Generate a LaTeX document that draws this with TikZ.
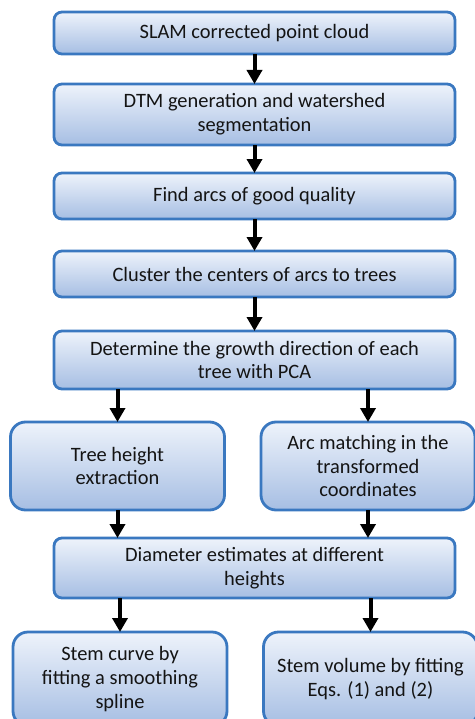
\documentclass[tikz,border=0pt]{standalone}
\usepackage{fontspec}
\setmainfont{Carlito}
\definecolor{stepedge}{RGB}{58,120,192}
\definecolor{steptop}{RGB}{238,243,251}
\definecolor{stepbot}{RGB}{166,190,227}
\definecolor{steptext}{RGB}{20,20,20}
\usetikzlibrary{arrows.meta,positioning}

\begin{document}
\begin{tikzpicture}[x=1bp,y=-1bp,
  stepbox/.style={draw=stepedge,line width=2.8bp,rounded corners=8bp,top color=steptop,bottom color=stepbot,
    outer sep=0pt,inner sep=2bp,align=center,text=steptext,font=\fontsize{20.5}{24}\selectfont},
  wide/.style={minimum width=401bp},
  half/.style={rounded corners=15bp,minimum width=214bp},
  arr/.style={-{Triangle[width=15bp,length=14bp]},line width=4bp,black}]
  \useasboundingbox (0,0) rectangle (475,719);
  \clip (0,0) rectangle (475,719);
  % main chain
  \node[stepbox,wide,minimum height=42bp] (slam) at (254.5,33) {SLAM corrected point cloud};
  \node[stepbox,wide,minimum height=61bp] (dtm) at (254.5,114.5) {DTM generation and watershed\\segmentation};
  \node[stepbox,wide,minimum height=46bp] (arcs) at (254.5,196) {Find arcs of good quality};
  \node[stepbox,wide,minimum height=46bp] (clust) at (254.5,274) {Cluster the centers of arcs to trees};
  \node[stepbox,wide,minimum height=58bp] (pca) at (254.5,360) {Determine the growth direction of each\\tree with PCA};
  % two branches
  \node[stepbox,half,minimum height=88bp] (height) at (117.5,466) {Tree height\\extraction};
  \node[stepbox,half,minimum height=88bp] (match) at (368,466) {Arc matching in the\\transformed\\coordinates};
  \node[stepbox,wide,minimum height=60bp] (diam) at (254.5,568) {Diameter estimates at different\\heights};
  \node[stepbox,half,minimum height=94bp] (curve) at (120,679) {Stem curve by\\fitting a smoothing\\spline};
  \node[stepbox,half,minimum height=94bp] (vol) at (370.5,679) {Stem volume by fitting\\Eqs. (1) and (2)};
  \draw[arr] (slam) -- (dtm);
  \draw[arr] (dtm) -- (arcs);
  \draw[arr] (arcs) -- (clust);
  \draw[arr] (clust) -- (pca);
  \draw[arr] (pca.south -| height.north) -- (height.north);
  \draw[arr] (pca.south -| match.north) -- (match.north);
  \draw[arr] (height.south) -- (diam.north -| height.south);
  \draw[arr] (match.south) -- (diam.north -| match.south);
  \draw[arr] (diam.south -| curve.north) -- (curve.north);
  \draw[arr] (diam.south -| vol.north) -- (vol.north);
\end{tikzpicture}
\end{document}
